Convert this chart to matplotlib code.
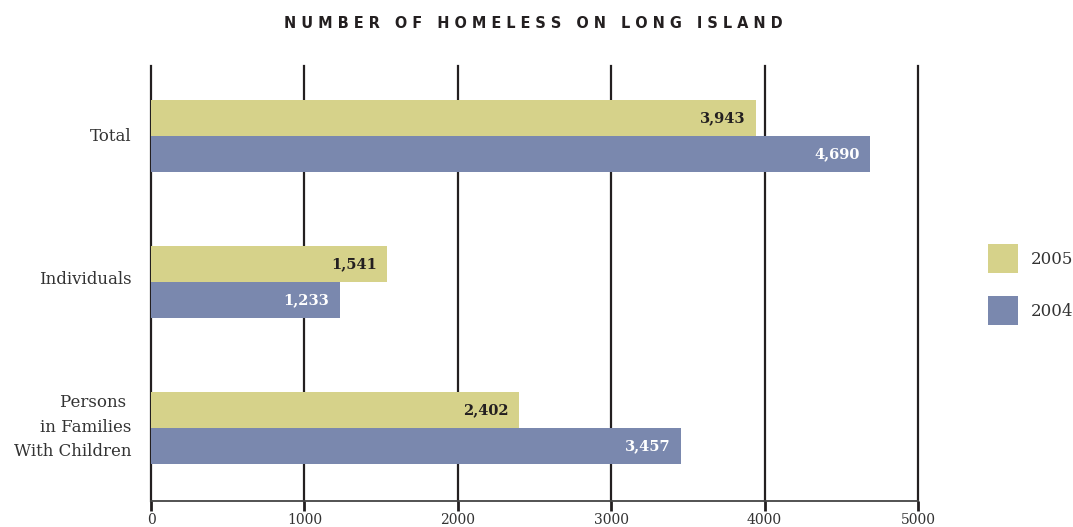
import matplotlib
matplotlib.use("Agg")
import matplotlib.pyplot as plt
from matplotlib.patches import Patch

categories = ["Total", "Individuals", "Persons \nin Families\nWith Children"]
values_2005 = [3943, 1541, 2402]
values_2004 = [4690, 1233, 3457]
series_names = ["2005", "2004"]
xticks = [0, 1000, 2000, 3000, 4000, 5000]
title = "NUMBER OF HOMELESS ON LONG ISLAND"

c2005 = "#D6D28A"
c2004 = "#7A88AE"
dark = "#231F20"
serif = ["DejaVu Serif"]

fig = plt.figure(figsize=(10.73, 5.27), dpi=100)
W, H = 1073, 527
ax = fig.add_axes([151 / W, (H - 501) / H, (918 - 151) / W, (501 - 66) / H])

h = 0.247
ys = list(range(len(categories)))
ax.barh([y - h / 2 for y in ys], values_2005, height=h, color=c2005, zorder=2)
ax.barh([y + h / 2 for y in ys], values_2004, height=h, color=c2004, zorder=2)

for y, v in zip(ys, values_2005):
    ax.text(v - 70, y - h / 2, f"{v:,}", ha="right", va="center", fontsize=10.5,
            fontweight="bold", color=dark, family=serif, zorder=3)
for y, v in zip(ys, values_2004):
    ax.text(v - 70, y + h / 2, f"{v:,}", ha="right", va="center", fontsize=10.5,
            fontweight="bold", color="white", family=serif, zorder=3)

ax.set_xlim(0, 5000)
ax.set_ylim(2.5, -0.48)
ax.set_xticks(xticks)
ax.set_xticklabels([str(t) for t in xticks], family=serif, fontsize=10, color="#333333")
# label anchors nudged slightly upward (ticks themselves are invisible)
label_offsets = [-0.014, -0.034, -0.045]
ax.set_yticks([y + o for y, o in zip(ys, label_offsets)])
ax.set_yticklabels(categories, family=serif, fontsize=12, color="#333333", ha="right",
                   linespacing=1.55)
ax.tick_params(axis="y", length=0, pad=14)
ax.tick_params(axis="x", length=7, width=2, color=dark, pad=2)
for t in xticks:
    ax.axvline(t, color=dark, lw=1.6, zorder=1, clip_on=False)
for s in ["left", "right", "top"]:
    ax.spines[s].set_visible(False)
ax.spines["bottom"].set_color("#444444")
ax.spines["bottom"].set_linewidth(1.3)

spaced = "   ".join(" ".join(w) for w in title.split())
fig.text(533 / W, 1 - 23 / H, spaced, ha="center", va="center", fontsize=10.45,
         fontweight="bold", color=dark, family="DejaVu Sans")

handles = [Patch(facecolor=c2005, edgecolor="none"), Patch(facecolor=c2004, edgecolor="none")]
leg = fig.legend(handles, series_names, loc="center left", bbox_to_anchor=(988 / W, 1 - 284.5 / H),
                 frameon=False, prop={"family": serif, "size": 12},
                 handlelength=1.8, handleheight=2.3, labelspacing=1.38, handletextpad=0.75,
                 borderpad=0, borderaxespad=0)
for t in leg.get_texts():
    t.set_color("#333333")

fig.savefig("out.png", dpi=100, facecolor="white")
